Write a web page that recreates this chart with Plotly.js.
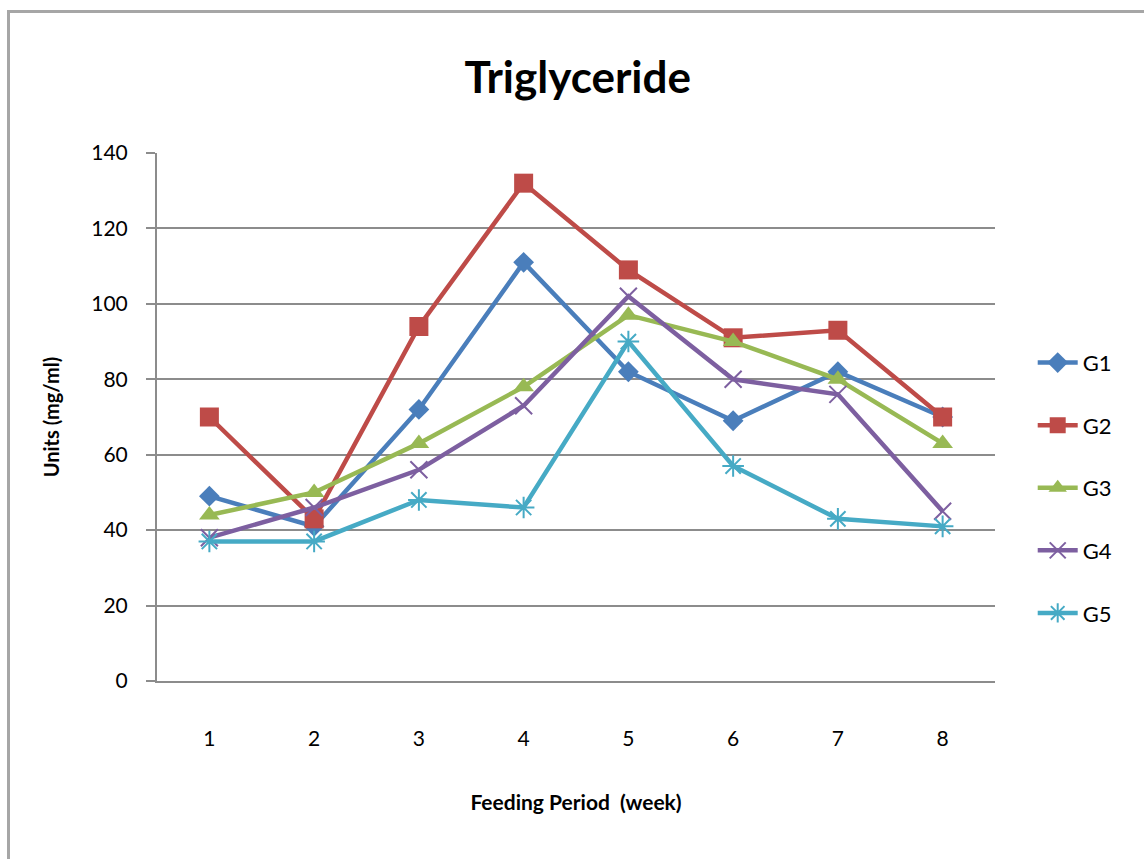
<!DOCTYPE html>
<html>
<head>
<meta charset="utf-8">
<script src="https://cdn.plot.ly/plotly-3.0.1.min.js"></script>
<style>
  html, body { margin: 0; padding: 0; background: #fff; }
  #wrap { position: relative; width: 1144px; height: 859px; overflow: hidden; }
  #frame { position: absolute; left: 7px; top: 10px; width: 1160px; height: 880px;
           border: 3px solid #a6a6a6; box-sizing: border-box; pointer-events: none; z-index: 2; }
  #chart { position: absolute; left: 0; top: 0; width: 1144px; height: 859px; }
</style>
</head>
<body>
<div id="wrap">
  <div id="chart"></div>
  <div id="frame"></div>
</div>
<script>
const weeks = ["1", "2", "3", "4", "5", "6", "7", "8"];
const seriesNames = ["G1", "G2", "G3", "G4", "G5"];
const g1 = [49, 41, 72, 111, 82, 69, 82, 70];
const g2 = [70, 43, 94, 132, 109, 91, 93, 70];
const g3 = [44, 50, 63, 78, 97, 90, 80, 63];
const g4 = [38, 46, 56, 73, 102, 80, 76, 45];
const g5 = [37, 37, 48, 46, 90, 57, 43, 41];
const yTicks = [0, 20, 40, 60, 80, 100, 120, 140];

const colors = ["#4a7ebb", "#be4b48", "#98b954", "#7d5fa0", "#46aac5"];
const symbols = ["diamond", "square", "triangle-up", "x-thin-open", "asterisk-open"];
const sizes = [16, 19, 18, 17, 18];
const allValues = [g1, g2, g3, g4, g5];

const traces = allValues.map((vals, i) => ({
  x: weeks,
  y: vals,
  name: seriesNames[i],
  type: "scatter",
  mode: "lines+markers",
  legendgroup: seriesNames[i],
  line: { color: colors[i], width: 4.5 },
  marker: {
    symbol: symbols[i],
    size: sizes[i],
    color: colors[i],
    line: { color: colors[i], width: (i >= 3 ? 2 : 0) }
  }
}));

const font = "Lato, 'Open Sans', 'DejaVu Sans', sans-serif";

const layout = {
  width: 1144,
  height: 859,
  paper_bgcolor: "rgba(0,0,0,0)",
  plot_bgcolor: "#ffffff",
  margin: { l: 157, r: 149, t: 153, b: 178 },
  font: { family: font, color: "#000000", size: 20 },
  title: {
    text: "<b>Triglyceride</b>",
    font: { family: font, size: 44, color: "#000000" },
    x: 0.505, xanchor: "center",
    y: 0.91, yanchor: "middle"
  },
  xaxis: {
    type: "category",
    categoryorder: "array",
    categoryarray: weeks,
    range: [-0.5, 7.5],
    showgrid: false,
    zeroline: false,
    showline: true,
    linecolor: "#8c8c8c",
    linewidth: 2,
    ticks: "",
    tickfont: { family: font, size: 21, color: "#000" },
    ticklabelstandoff: 38,
    title: {
      text: "<b>Feeding Period  (week)</b>",
      font: { family: font, size: 21, color: "#000" },
      standoff: 46
    }
  },
  yaxis: {
    range: [0, 140],
    tickvals: yTicks,
    ticktext: yTicks.map(String),
    showgrid: true,
    gridcolor: "#8c8c8c",
    gridwidth: 2,
    zeroline: false,
    showline: true,
    linecolor: "#8c8c8c",
    linewidth: 2,
    ticks: "outside",
    ticklen: 9,
    tickwidth: 2,
    tickcolor: "#8c8c8c",
    tickfont: { family: font, size: 21, color: "#000" },
    ticklabelstandoff: 14,
    title: {
      text: "<b>Units (mg/ml)</b>",
      font: { family: font, size: 20, color: "#000" },
      standoff: 26
    }
  },
  showlegend: true,
  legend: {
    x: 1.045, xanchor: "left",
    y: 0.366, yanchor: "middle",
    traceorder: "grouped",
    tracegroupgap: 31,
    font: { family: font, size: 22, color: "#000" },
    bgcolor: "rgba(0,0,0,0)",
    itemwidth: 40
  }
};

Plotly.newPlot("chart", traces, layout, { displayModeBar: false, staticPlot: true });
</script>
</body>
</html>
